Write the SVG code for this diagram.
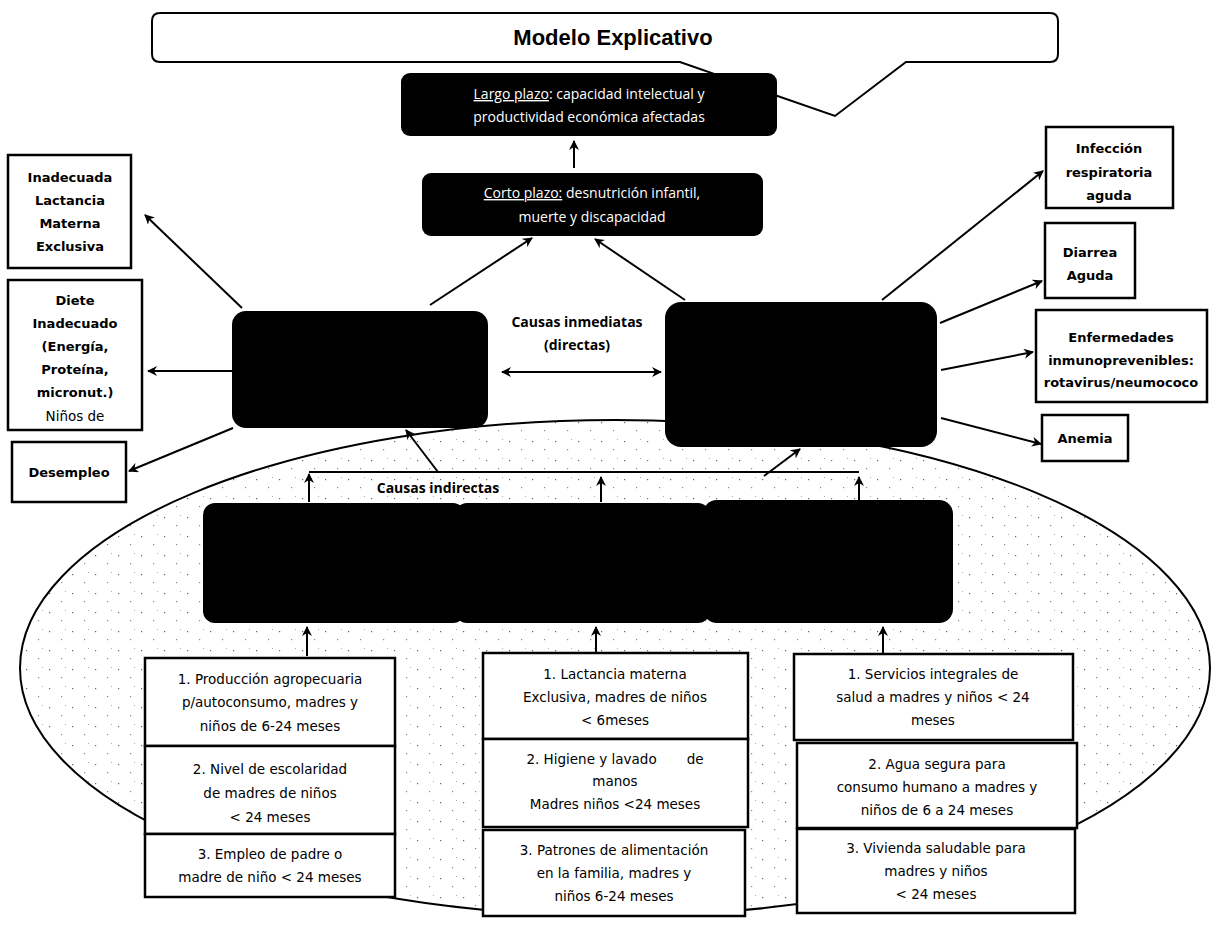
<svg xmlns="http://www.w3.org/2000/svg" width="1215" height="928" viewBox="0 0 1215 928">
<style>
.wb{fill:#fff;stroke:#000;stroke-width:2.5}
.bb{fill:#000}
.ln{stroke:#000;stroke-width:2;fill:none}
.lnA{stroke:#000;stroke-width:2;fill:none;marker-end:url(#ah)}
.tb{font-family:"DejaVu Sans","Liberation Sans",sans-serif;font-weight:bold;font-size:13px;fill:#000;text-anchor:middle}
.tn{font-family:"DejaVu Sans","Liberation Sans",sans-serif;font-size:13.5px;fill:#000;text-anchor:middle}
.tw{font-family:"Open Sans","Liberation Sans",sans-serif;font-size:14px;fill:#fff;text-anchor:middle}
.tl{font-family:"Open Sans","Liberation Sans",sans-serif;font-weight:bold;font-size:14px;fill:#000;text-anchor:middle}
</style>
<defs>
<marker id="ah" viewBox="0 0 10 10" refX="9" refY="5" markerWidth="5" markerHeight="5" orient="auto-start-reverse">
<path d="M0,0 L10,5 L0,10 L3,5 Z" fill="#000"/>
</marker>
<pattern id="dots" width="23" height="19" patternUnits="userSpaceOnUse">
<rect x="3" y="4" width="1.2" height="1.2" fill="#666"/>
<rect x="15" y="12" width="1.2" height="1.2" fill="#888"/>
<rect x="19" y="2" width="1" height="1" fill="#aaa"/>
</pattern>
</defs>
<rect width="1215" height="928" fill="#fff"/>

<g id="ellipse-area">
<ellipse cx="615" cy="668" rx="595" ry="248" fill="url(#dots)" stroke="#000" stroke-width="2"/>
</g>

<g id="title">
<path d="M160 13 H1050 Q1058 13 1058 21 V54 Q1058 62 1050 62 H906 L835 116 L680 62 H160 Q152 62 152 54 V21 Q152 13 160 13 Z" fill="#fff" stroke="#000" stroke-width="2"/>
<text x="613" y="45" font-family="Liberation Sans,Arial,sans-serif" font-weight="bold" font-size="22" text-anchor="middle">Modelo Explicativo</text>
</g>

<g id="connectors">
<line class="lnA" x1="574" y1="168" x2="574" y2="141"/>
<line class="lnA" x1="430" y1="305" x2="532" y2="238"/>
<line class="lnA" x1="685" y1="300" x2="595" y2="239"/>
<line class="ln" x1="502" y1="372" x2="661" y2="372" style="marker-start:url(#ah);marker-end:url(#ah)"/>
<line class="lnA" x1="242" y1="308" x2="145" y2="215"/>
<line class="lnA" x1="232" y1="371" x2="148" y2="371"/>
<line class="lnA" x1="233" y1="428" x2="129" y2="471"/>
<line class="lnA" x1="882" y1="300" x2="1043" y2="171"/>
<line class="lnA" x1="940" y1="323" x2="1042" y2="281"/>
<line class="lnA" x1="941" y1="370" x2="1033" y2="352"/>
<line class="lnA" x1="941" y1="418" x2="1041" y2="444"/>
<line class="ln" x1="309" y1="472" x2="859" y2="472"/>
<line class="lnA" x1="309" y1="502" x2="309" y2="474"/>
<line class="lnA" x1="601" y1="502" x2="601" y2="477"/>
<line class="lnA" x1="859" y1="502" x2="859" y2="477"/>
<line class="lnA" x1="438" y1="472" x2="406" y2="430"/>
<line class="lnA" x1="764" y1="476" x2="800" y2="449"/>
<line class="lnA" x1="307" y1="656" x2="307" y2="627"/>
<line class="lnA" x1="596" y1="652" x2="596" y2="627"/>
<line class="lnA" x1="883" y1="653" x2="883" y2="627"/>
</g>

<g id="largo-plazo">
<rect class="bb" x="401" y="73" width="376" height="63" rx="9"/>
<text class="tw" x="589" y="99" font-size="15"><tspan text-decoration="underline">Largo plazo</tspan>: capacidad intelectual y</text>
<text class="tw" x="589" y="122" font-size="15">productividad económica afectadas</text>
</g>

<g id="corto-plazo">
<rect class="bb" x="422" y="173" width="341" height="63" rx="9"/>
<text class="tw" x="592" y="198"><tspan text-decoration="underline">Corto plazo:</tspan> desnutrición infantil,</text>
<text class="tw" x="592" y="222">muerte  y discapacidad</text>
</g>

<g id="causa-izq"><rect class="bb" x="232" y="311" width="256" height="117" rx="14"/></g>
<g id="causa-der"><rect class="bb" x="665" y="302" width="272" height="145" rx="16"/></g>

<g id="label-inmediatas">
<text class="tl" x="577" y="327">Causas inmediatas</text>
<text class="tl" x="577" y="350">(directas)</text>
</g>
<g id="label-indirectas"><text class="tl" x="438" y="493">Causas indirectas</text></g>

<g id="lactancia">
<rect class="wb" x="8" y="155" width="123" height="113"/>
<text class="tb" x="70" y="182">Inadecuada</text>
<text class="tb" x="70" y="205">Lactancia</text>
<text class="tb" x="70" y="228">Materna</text>
<text class="tb" x="70" y="251">Exclusiva</text>
</g>
<g id="dieta">
<rect class="wb" x="8" y="280" width="134" height="150"/>
<text class="tb" x="75" y="305">Diete</text>
<text class="tb" x="75" y="328">Inadecuado</text>
<text class="tb" x="75" y="351">(Energía,</text>
<text class="tb" x="75" y="374">Proteína,</text>
<text class="tb" x="75" y="397">micronut.)</text>
<text class="tn" x="75" y="421">Niños de</text>
</g>
<g id="desempleo">
<rect class="wb" x="12" y="442" width="114" height="60"/>
<text class="tb" x="69" y="477">Desempleo</text>
</g>

<g id="ira">
<rect class="wb" x="1046" y="127" width="127" height="81"/>
<text class="tb" x="1109" y="153">Infección</text>
<text class="tb" x="1109" y="177">respiratoria</text>
<text class="tb" x="1109" y="200">aguda</text>
</g>
<g id="diarrea">
<rect class="wb" x="1045" y="223" width="90" height="75"/>
<text class="tb" x="1090" y="257">Diarrea</text>
<text class="tb" x="1090" y="280">Aguda</text>
</g>
<g id="enfermedades">
<rect class="wb" x="1036" y="310" width="171" height="92"/>
<text class="tb" x="1121" y="342" font-size="11">Enfermedades</text>
<text class="tb" x="1121" y="365" font-size="11">inmunoprevenibles:</text>
<text class="tb" x="1121" y="387" font-size="11">rotavirus/neumococo</text>
</g>
<g id="anemia">
<rect class="wb" x="1042" y="415" width="86" height="46"/>
<text class="tb" x="1085" y="443">Anemia</text>
</g>

<g id="indirectas-band">
<rect class="bb" x="203" y="503" width="262" height="120" rx="12"/>
<rect class="bb" x="455" y="503" width="255" height="120" rx="12"/>
<rect class="bb" x="703" y="500" width="250" height="123" rx="14"/>
</g>

<g id="col1-1"><rect class="wb" x="145" y="658" width="250" height="88"/>
<text class="tn" x="270" y="684">1. Producción agropecuaria</text>
<text class="tn" x="270" y="707">p/autoconsumo, madres y</text>
<text class="tn" x="270" y="731">niños de 6-24 meses</text></g>
<g id="col1-2"><rect class="wb" x="145" y="746" width="250" height="88"/>
<text class="tn" x="270" y="774">2. Nivel de escolaridad</text>
<text class="tn" x="270" y="798">de madres de niños</text>
<text class="tn" x="270" y="822">&lt; 24 meses</text></g>
<g id="col1-3"><rect class="wb" x="145" y="834" width="250" height="63"/>
<text class="tn" x="270" y="859">3. Empleo de padre o</text>
<text class="tn" x="270" y="882">madre de niño &lt; 24 meses</text></g>

<g id="col2-1"><rect class="wb" x="483" y="653" width="265" height="86"/>
<text class="tn" x="615" y="679">1. Lactancia materna</text>
<text class="tn" x="615" y="702">Exclusiva, madres de niños</text>
<text class="tn" x="615" y="725">&lt; 6meses</text></g>
<g id="col2-2"><rect class="wb" x="483" y="739" width="265" height="88"/>
<text class="tn" x="615" y="764" xml:space="preserve">2. Higiene y lavado       de</text>
<text class="tn" x="615" y="786">manos</text>
<text class="tn" x="615" y="809">Madres niños &lt;24 meses</text></g>
<g id="col2-3"><rect class="wb" x="483" y="830" width="262" height="86"/>
<text class="tn" x="614" y="855">3. Patrones de alimentación</text>
<text class="tn" x="614" y="878">en la familia, madres y</text>
<text class="tn" x="614" y="901">niños 6-24 meses</text></g>

<g id="col3-1"><rect class="wb" x="794" y="654" width="279" height="86"/>
<text class="tn" x="933" y="679">1. Servicios integrales de</text>
<text class="tn" x="933" y="702">salud a madres y niños &lt; 24</text>
<text class="tn" x="933" y="725">meses</text></g>
<g id="col3-2"><rect class="wb" x="797" y="743" width="280" height="85"/>
<text class="tn" x="937" y="769">2. Agua segura para</text>
<text class="tn" x="937" y="792">consumo humano a madres y</text>
<text class="tn" x="937" y="815">niños de 6 a 24 meses</text></g>
<g id="col3-3"><rect class="wb" x="797" y="829" width="278" height="84"/>
<text class="tn" x="936" y="853">3. Vivienda saludable para</text>
<text class="tn" x="936" y="876">madres y niños</text>
<text class="tn" x="936" y="899">&lt; 24 meses</text></g>
</svg>
